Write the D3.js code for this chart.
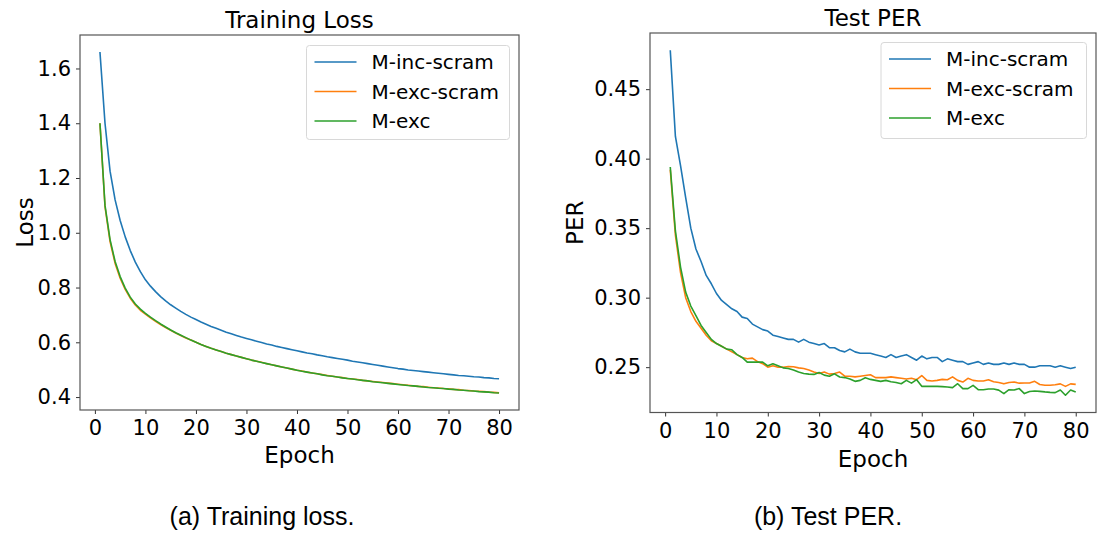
<!DOCTYPE html>
<html>
<head>
<meta charset="utf-8">
<script src="https://cdn.jsdelivr.net/npm/d3@7"></script>
<style>
  body { margin: 0; background: #fff; }
  svg text { font-family: "DejaVu Sans", sans-serif; fill: #000; }
  .caption { font-family: "Liberation Sans", Arial, sans-serif; }
</style>
</head>
<body>
<div id="chart"></div>
<script>
// epochs 1..80
const epochs = d3.range(1, 81);

const seriesNames = ['M-inc-scram', 'M-exc-scram', 'M-exc'];
const colors = ['#1f77b4', '#ff7f0e', '#2ca02c'];

// training loss
const lossIncScram = [
  1.660, 1.400, 1.225, 1.120, 1.045, 0.985, 0.935, 0.893, 0.858, 0.828,
  0.805, 0.785, 0.767, 0.751, 0.737, 0.725, 0.713, 0.702, 0.692, 0.683,
  0.674, 0.666, 0.658, 0.651, 0.644, 0.637, 0.631, 0.625, 0.619, 0.614,
  0.609, 0.604, 0.599, 0.594, 0.590, 0.585, 0.581, 0.577, 0.573, 0.569,
  0.565, 0.561, 0.558, 0.554, 0.551, 0.547, 0.544, 0.541, 0.538, 0.535,
  0.531, 0.528, 0.525, 0.522, 0.519, 0.516, 0.513, 0.510, 0.507, 0.504,
  0.502, 0.499, 0.497, 0.495, 0.493, 0.491, 0.489, 0.487, 0.485, 0.483,
  0.481, 0.479, 0.478, 0.476, 0.474, 0.473, 0.471, 0.470, 0.468, 0.467
];
const lossExcScram = [
  1.400, 1.095, 0.968, 0.888, 0.834, 0.793, 0.761, 0.736, 0.717, 0.703,
  0.689, 0.677, 0.665, 0.654, 0.644, 0.634, 0.625, 0.616, 0.608, 0.600,
  0.592, 0.585, 0.578, 0.572, 0.566, 0.560, 0.555, 0.550, 0.545, 0.540,
  0.535, 0.531, 0.527, 0.522, 0.518, 0.514, 0.510, 0.506, 0.502, 0.498,
  0.495, 0.491, 0.488, 0.485, 0.482, 0.479, 0.476, 0.473, 0.471, 0.468,
  0.466, 0.464, 0.461, 0.459, 0.457, 0.455, 0.453, 0.451, 0.449, 0.447,
  0.445, 0.443, 0.441, 0.439, 0.438, 0.436, 0.434, 0.433, 0.431, 0.430,
  0.428, 0.427, 0.425, 0.424, 0.422, 0.421, 0.420, 0.418, 0.417, 0.416
];
const lossExc = [
  1.400, 1.100, 0.975, 0.895, 0.840, 0.798, 0.765, 0.740, 0.721, 0.706,
  0.692, 0.679, 0.667, 0.656, 0.645, 0.635, 0.626, 0.617, 0.608, 0.600,
  0.592, 0.585, 0.578, 0.572, 0.566, 0.560, 0.555, 0.550, 0.545, 0.540,
  0.535, 0.531, 0.526, 0.522, 0.518, 0.514, 0.510, 0.506, 0.502, 0.498,
  0.494, 0.491, 0.488, 0.485, 0.481, 0.478, 0.476, 0.473, 0.470, 0.468,
  0.466, 0.463, 0.461, 0.459, 0.456, 0.454, 0.452, 0.450, 0.448, 0.446,
  0.444, 0.442, 0.441, 0.439, 0.437, 0.435, 0.434, 0.432, 0.431, 0.429,
  0.428, 0.426, 0.425, 0.423, 0.422, 0.420, 0.419, 0.418, 0.416, 0.415
];

// test PER
const perIncScram = [
  0.478, 0.416, 0.395, 0.372, 0.350, 0.335, 0.326, 0.316, 0.310, 0.303,
  0.298, 0.295, 0.292, 0.290, 0.286, 0.285, 0.281, 0.279, 0.277, 0.276,
  0.273, 0.272, 0.271, 0.270, 0.270, 0.268, 0.270, 0.268, 0.267, 0.266,
  0.267, 0.264, 0.264, 0.262, 0.261, 0.263, 0.261, 0.260, 0.260, 0.260,
  0.259, 0.258, 0.257, 0.259, 0.257, 0.258, 0.259, 0.257, 0.255, 0.258,
  0.256, 0.257, 0.257, 0.254, 0.256, 0.255, 0.254, 0.254, 0.252, 0.253,
  0.254, 0.252, 0.253, 0.252, 0.252, 0.253, 0.252, 0.253, 0.252, 0.252,
  0.250, 0.250, 0.251, 0.251, 0.251, 0.250, 0.251, 0.250, 0.249, 0.250
];
const perExcScram = [
  0.392, 0.345, 0.318, 0.300, 0.290, 0.283, 0.278, 0.273, 0.269, 0.267,
  0.265, 0.263, 0.261, 0.259, 0.257, 0.256, 0.2565, 0.254, 0.2525, 0.250,
  0.251, 0.250, 0.250, 0.2505, 0.2503, 0.2495, 0.249, 0.248, 0.2465, 0.2455,
  0.2465, 0.245, 0.2455, 0.2465, 0.2435, 0.2435, 0.243, 0.2435, 0.244, 0.2445,
  0.2425, 0.2425, 0.2425, 0.243, 0.2425, 0.242, 0.2415, 0.242, 0.241, 0.244,
  0.2405, 0.240, 0.2405, 0.2412, 0.241, 0.243, 0.2405, 0.2393, 0.242, 0.2405,
  0.240, 0.240, 0.241, 0.2395, 0.239, 0.238, 0.239, 0.2393, 0.2385, 0.2386,
  0.2386, 0.2398, 0.2375, 0.237, 0.237, 0.2373, 0.238, 0.2362, 0.238, 0.2376
];
const perExc = [
  0.394, 0.348, 0.322, 0.304, 0.294, 0.287, 0.280, 0.275, 0.270, 0.267,
  0.265, 0.263, 0.2625, 0.259, 0.257, 0.2536, 0.2536, 0.2536, 0.2536, 0.251,
  0.2524, 0.251, 0.2495, 0.249, 0.248, 0.2465, 0.2455, 0.245, 0.2448, 0.2462,
  0.2443, 0.2435, 0.2452, 0.2429, 0.2425, 0.2415, 0.2398, 0.2405, 0.2424, 0.2412,
  0.2405, 0.2398, 0.2405, 0.2395, 0.239, 0.2381, 0.2405, 0.2385, 0.241, 0.2362,
  0.2362, 0.2362, 0.2362, 0.236, 0.2357, 0.2353, 0.2381, 0.2346, 0.2346, 0.2369,
  0.2338, 0.2338, 0.2343, 0.2343, 0.2335, 0.231, 0.2338, 0.2336, 0.2346, 0.231,
  0.2325, 0.2329, 0.2326, 0.2322, 0.2319, 0.2317, 0.2336, 0.2298, 0.2336, 0.2321
];

const xTicks = [0, 10, 20, 30, 40, 50, 60, 70, 80];
const lossTicks = [0.4, 0.6, 0.8, 1.0, 1.2, 1.4, 1.6];
const perTicks = [0.25, 0.30, 0.35, 0.40, 0.45];

const W = 1097, H = 537;
const svg = d3.select('#chart').append('svg')
  .attr('width', W)
  .attr('height', H);
svg.append('rect').attr('width', W).attr('height', H).attr('fill', '#fff');

// matplotlib style 5% padding on each side
function padded(values) {
  const [lo, hi] = d3.extent(values);
  const p = (hi - lo) * 0.05;
  return [lo - p, hi + p];
}

function panel(opts) {
  const { left, right, top, bottom } = opts.box;
  const xScale = d3.scaleLinear().domain(padded(epochs)).range([left, right]);
  const yScale = d3.scaleLinear().domain(padded(opts.series.flat())).range([bottom, top]);

  const g = svg.append('g');

  // lines
  const line = d3.line()
    .x((d, i) => xScale(epochs[i]))
    .y((d) => yScale(d));

  opts.series.forEach((s, k) => {
    g.append('path')
      .datum(s)
      .attr('fill', 'none')
      .attr('stroke', colors[k])
      .attr('stroke-width', 1.6)
      .attr('stroke-linejoin', 'round')
      .attr('d', line);
  });

  // axes
  const xAxis = g.append('g')
    .attr('transform', `translate(0,${bottom})`)
    .call(d3.axisBottom(xScale).tickValues(xTicks).tickSize(4).tickPadding(5).tickFormat(d3.format('d')));
  const yAxis = g.append('g')
    .attr('transform', `translate(${left},0)`)
    .call(d3.axisLeft(yScale).tickValues(opts.ticks).tickSize(4).tickPadding(5).tickFormat(d3.format(opts.fmt)));
  [xAxis, yAxis].forEach((a) => {
    a.select('.domain').remove();
    a.selectAll('line').attr('stroke', '#333').attr('stroke-width', 1);
    a.selectAll('text').style('font-size', '21px').attr('fill', '#000');
  });
  xAxis.selectAll('text').attr('dy', '0.78em');

  // frame
  g.append('rect')
    .attr('x', left)
    .attr('y', top)
    .attr('width', right - left)
    .attr('height', bottom - top)
    .attr('fill', 'none')
    .attr('stroke', '#555')
    .attr('stroke-width', 1.2);

  // title + labels
  g.append('text')
    .attr('x', (left + right) / 2)
    .attr('y', top - 7)
    .attr('text-anchor', 'middle')
    .style('font-size', '23px')
    .text(opts.title);

  g.append('text')
    .attr('x', (left + right) / 2)
    .attr('y', opts.xLabelY)
    .attr('text-anchor', 'middle')
    .style('font-size', '23px')
    .text('Epoch');

  g.append('text')
    .attr('transform', `translate(${opts.yLabelX},${(top + bottom) / 2}) rotate(-90)`)
    .attr('text-anchor', 'middle')
    .style('font-size', '23px')
    .text(opts.yLabel);

  // legend
  const lg = opts.legend;
  g.append('rect')
    .attr('x', lg.x)
    .attr('y', lg.y)
    .attr('width', lg.w)
    .attr('height', lg.h)
    .attr('rx', 3)
    .attr('fill', '#fff')
    .attr('fill-opacity', 0.8)
    .attr('stroke', '#d8d8d8')
    .attr('stroke-width', 1);
  seriesNames.forEach((name, k) => {
    const yy = lg.y + 16.5 + k * 29.5;
    g.append('line')
      .attr('x1', lg.x + 8)
      .attr('x2', lg.x + 50)
      .attr('y1', yy)
      .attr('y2', yy)
      .attr('stroke', colors[k])
      .attr('stroke-width', 1.6);
    g.append('text')
      .attr('x', lg.x + 65)
      .attr('y', yy)
      .attr('dy', '0.35em')
      .style('font-size', '20px')
      .text(name);
  });

  // caption under the panel
  svg.append('text')
    .attr('class', 'caption')
    .attr('x', opts.captionX)
    .attr('y', 525)
    .attr('text-anchor', 'middle')
    .style('font-size', '25px')
    .text(opts.caption);
}

panel({
  box: { left: 80, right: 519, top: 35, bottom: 410 },
  series: [lossIncScram, lossExcScram, lossExc],
  ticks: lossTicks,
  fmt: '.1f',
  title: 'Training Loss',
  yLabel: 'Loss',
  yLabelX: 33,
  xLabelY: 463,
  legend: { x: 306.5, y: 45.5, w: 203, h: 94 },
  caption: '(a) Training loss.',
  captionX: 262,
});

panel({
  box: { left: 650, right: 1096, top: 33, bottom: 412.5 },
  series: [perIncScram, perExcScram, perExc],
  ticks: perTicks,
  fmt: '.2f',
  title: 'Test PER',
  yLabel: 'PER',
  yLabelX: 583,
  xLabelY: 466.5,
  legend: { x: 881, y: 42.5, w: 205.5, h: 96 },
  caption: '(b) Test PER.',
  captionX: 828,
});
</script>
</body>
</html>
